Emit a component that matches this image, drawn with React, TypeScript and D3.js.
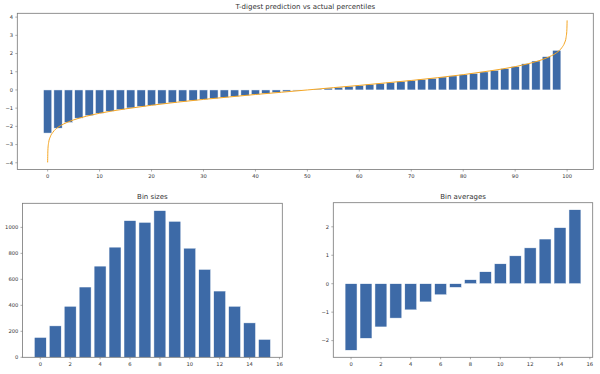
import * as d3 from 'd3';

// ---- data ----
const percentilePositions = d3.range(0, 100, 2); // 0,2,...,98
const predictedValues = [
  -2.37, -2.1, -1.79, -1.55, -1.41, -1.28, -1.17, -1.08, -0.99, -0.91,
  -0.84, -0.77, -0.71, -0.64, -0.58, -0.52, -0.47, -0.41, -0.36, -0.31,
  -0.25, -0.2, -0.15, -0.1, -0.05, 0.0, 0.05, 0.1, 0.15, 0.2,
  0.25, 0.31, 0.36, 0.41, 0.47, 0.52, 0.58, 0.64, 0.71, 0.77,
  0.84, 0.91, 0.99, 1.08, 1.17, 1.28, 1.44, 1.59, 1.83, 2.18,
];

const actualPercentiles = [
  0, 0.05, 0.2, 0.5, 1, 2, 3, 5, 7.5, 10, 15, 20, 25, 30, 35, 40, 45, 50,
  55, 60, 65, 70, 75, 80, 85, 90, 92.5, 95, 97, 98, 99, 99.5, 99.8, 99.95, 100,
];
const actualValues = [
  -3.98, -3.3, -2.88, -2.58, -2.33, -2.05, -1.88, -1.645, -1.44, -1.28,
  -1.04, -0.84, -0.67, -0.52, -0.385, -0.25, -0.126, 0.0, 0.126, 0.25,
  0.385, 0.52, 0.67, 0.84, 1.04, 1.28, 1.44, 1.645, 1.88, 2.05,
  2.33, 2.58, 2.88, 3.3, 3.82,
];

const binIndex = d3.range(16);
const binSizes = [153, 242, 393, 541, 702, 848, 1052, 1039, 1129, 1047, 840, 677, 510, 393, 265, 138];
const binAverages = [
  -2.34, -1.92, -1.52, -1.21, -0.92, -0.64, -0.39, -0.13,
  0.14, 0.42, 0.7, 0.98, 1.26, 1.57, 1.97, 2.6,
];

const topXTicks = [0, 10, 20, 30, 40, 50, 60, 70, 80, 90, 100];
const topYTicks = [-4, -3, -2, -1, 0, 1, 2, 3, 4];
const binXTicks = [0, 2, 4, 6, 8, 10, 12, 14, 16];
const sizeYTicks = [0, 200, 400, 600, 800, 1000];
const avgYTicks = [-2, -1, 0, 1, 2];

// ---- styling ----
const FONT = 'DejaVu Sans, sans-serif';
const BAR = '#3d6aa7';
const SPINE = '#777';
const TEXT = '#333';
const TICK_FS = 5.2;
const TITLE_FS = 7;

const pad = (lo: number, hi: number, f = 0.05): [number, number] => {
  const m = (hi - lo) * f;
  return [lo - m, hi + m];
};

const fmt = (v: number) => (v < 0 ? '\u2212' + Math.abs(v) : String(v));

function Axes({
  box,
  x,
  y,
  xTicks,
  yTicks,
  title,
  children,
}: {
  box: { l: number; r: number; t: number; b: number };
  x: d3.ScaleLinear<number, number>;
  y: d3.ScaleLinear<number, number>;
  xTicks: number[];
  yTicks: number[];
  title: string;
  children: any;
}) {
  return (
    <g>
      {children}
      <rect
        x={box.l}
        y={box.t}
        width={box.r - box.l}
        height={box.b - box.t}
        fill="none"
        stroke={SPINE}
        strokeWidth={0.8}
      />
      {xTicks.map((t) => (
        <g key={'x' + t}>
          <line x1={x(t)} x2={x(t)} y1={box.b} y2={box.b + 2} stroke={SPINE} strokeWidth={0.6} />
          <text
            x={x(t)}
            y={box.b + 8.3}
            textAnchor="middle"
            fontSize={TICK_FS}
            fontFamily={FONT}
            fill={TEXT}
          >
            {fmt(t)}
          </text>
        </g>
      ))}
      {yTicks.map((t) => (
        <g key={'y' + t}>
          <line x1={box.l - 2} x2={box.l} y1={y(t)} y2={y(t)} stroke={SPINE} strokeWidth={0.6} />
          <text
            x={box.l - 4.2}
            y={y(t) + 1.9}
            textAnchor="end"
            fontSize={TICK_FS}
            fontFamily={FONT}
            fill={TEXT}
          >
            {fmt(t)}
          </text>
        </g>
      ))}
      <text
        x={(box.l + box.r) / 2}
        y={box.t - 4}
        textAnchor="middle"
        fontSize={TITLE_FS}
        fontFamily={FONT}
        fill={TEXT}
      >
        {title}
      </text>
    </g>
  );
}

export default function App() {
  // ---- top: prediction vs actual ----
  const topBox = { l: 17.3, r: 593.3, t: 13.3, b: 169.5 };
  const topBarW = 1.6;
  const tx = d3
    .scaleLinear()
    .domain(pad(-topBarW / 2, 100))
    .range([topBox.l, topBox.r]);
  const tyExt = d3.extent([...actualValues, ...predictedValues]) as [number, number];
  const ty = d3.scaleLinear().domain(pad(tyExt[0], tyExt[1])).range([topBox.b, topBox.t]);
  const line = d3
    .line<number>()
    .x((_, i) => tx(actualPercentiles[i]))
    .y((d) => ty(d))
    .curve(d3.curveMonotoneX);

  // ---- bottom left: bin sizes ----
  const blBox = { l: 22.5, r: 282.3, t: 203.3, b: 357.3 };
  const bx = d3.scaleLinear().domain(pad(-0.4, 15.4)).range([blBox.l, blBox.r]);
  const sy = d3
    .scaleLinear()
    .domain([0, (d3.max(binSizes) as number) * 1.05])
    .range([blBox.b, blBox.t]);

  // ---- bottom right: bin averages ----
  const brBox = { l: 333.3, r: 592.7, t: 202.7, b: 357.3 };
  const ax = d3.scaleLinear().domain(pad(-0.4, 15.4)).range([brBox.l, brBox.r]);
  const avgExt = d3.extent(binAverages) as [number, number];
  const ay = d3.scaleLinear().domain(pad(avgExt[0], avgExt[1])).range([brBox.b, brBox.t]);

  return (
    <div style={{ position: 'absolute', left: 0, top: 0 }}>
      <svg width={600} height={374} style={{ display: 'block', background: '#fff' }}>
        <Axes box={topBox} x={tx} y={ty} xTicks={topXTicks} yTicks={topYTicks}
          title="T-digest prediction vs actual percentiles">
          {predictedValues.map((v, i) => (
            <rect
              key={i}
              x={tx(percentilePositions[i] - topBarW / 2)}
              width={tx(topBarW) - tx(0)}
              y={ty(Math.max(0, v))}
              height={Math.abs(ty(v) - ty(0))}
              fill={BAR}
              stroke="#fff"
              strokeWidth={0.5}
            />
          ))}
          <path d={line(actualValues) || ''} fill="none" stroke="#f5a623" strokeWidth={1} />
        </Axes>

        <Axes box={blBox} x={bx} y={sy} xTicks={binXTicks} yTicks={sizeYTicks} title="Bin sizes">
          {binSizes.map((v, i) => (
            <rect
              key={i}
              x={bx(binIndex[i] - 0.4)}
              width={bx(0.8) - bx(0)}
              y={sy(v)}
              height={sy(0) - sy(v)}
              fill={BAR}
              stroke="#fff"
              strokeWidth={0.5}
            />
          ))}
        </Axes>

        <Axes box={brBox} x={ax} y={ay} xTicks={binXTicks} yTicks={avgYTicks} title="Bin averages">
          {binAverages.map((v, i) => (
            <rect
              key={i}
              x={ax(binIndex[i] - 0.4)}
              width={ax(0.8) - ax(0)}
              y={ay(Math.max(0, v))}
              height={Math.abs(ay(v) - ay(0))}
              fill={BAR}
              stroke="#fff"
              strokeWidth={0.5}
            />
          ))}
        </Axes>
      </svg>
    </div>
  );
}
